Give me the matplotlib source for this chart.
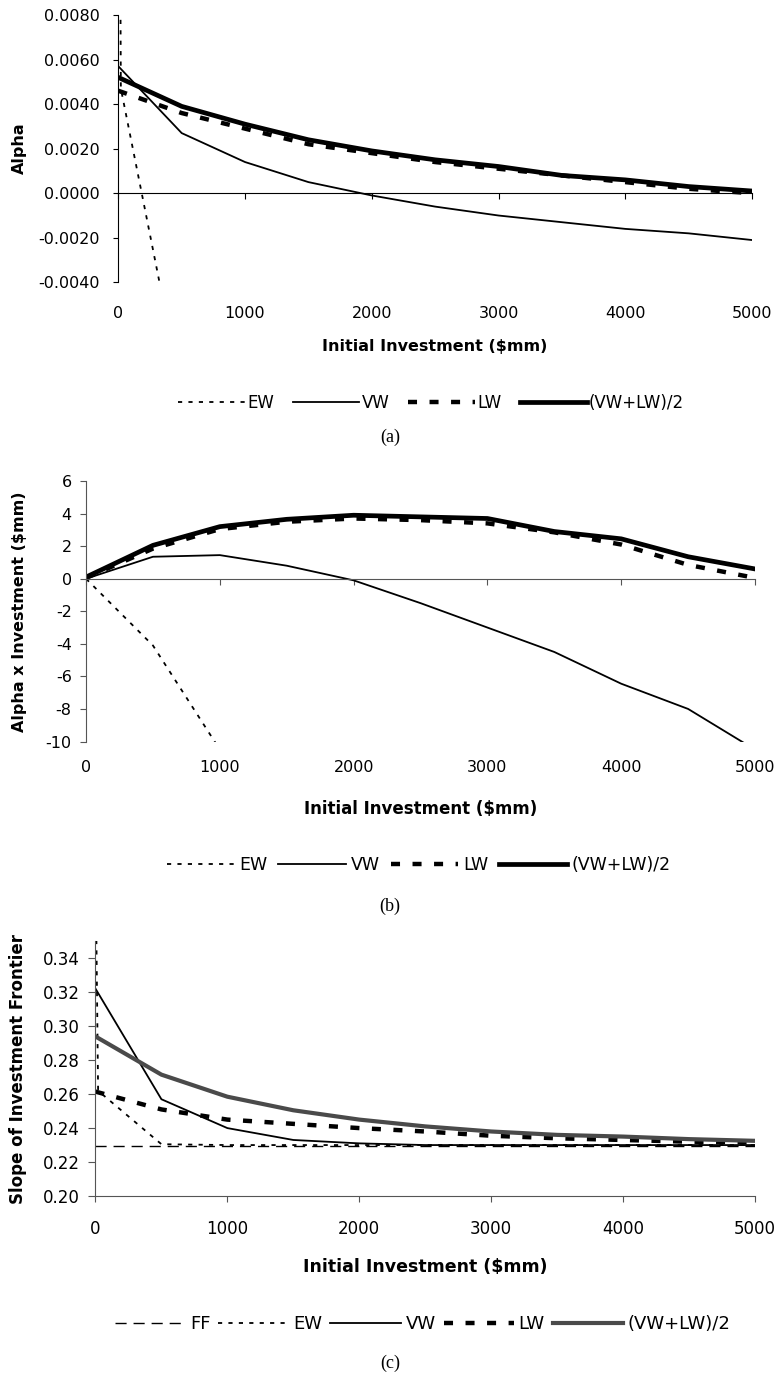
"""Alpha, alpha x investment and frontier slope vs initial investment, three stacked panels."""
import matplotlib

matplotlib.use("Agg")
import matplotlib.pyplot as plt
from matplotlib.ticker import FormatStrFormatter

plt.rcParams["font.family"] = ["DejaVu Sans"]
plt.rcParams["axes.unicode_minus"] = False
plt.rcParams["lines.scale_dashes"] = False

# ---- data ----
INVEST = [0, 500, 1000, 1500, 2000, 2500, 3000, 3500, 4000, 4500, 5000]
XTICKS = [0, 1000, 2000, 3000, 4000, 5000]

# (a) alpha
EW_A_X = [0, 20, 500]
EW_A = [0.0300, 0.0047, -0.0090]
VW_A = [0.0057, 0.0027, 0.0014, 0.0005, -0.0001, -0.0006, -0.0010, -0.0013, -0.0016, -0.0018, -0.0021]
LW_A = [0.0046, 0.0036, 0.0029, 0.0022, 0.0018, 0.0014, 0.0011, 0.0008, 0.0005, 0.0002, 0.0000]
AVG_A = [0.0052, 0.0039, 0.0031, 0.0024, 0.0019, 0.0015, 0.0012, 0.0008, 0.0006, 0.0003, 0.0001]

# (b) alpha x investment
EW_B_X = [0, 500, 1000]
EW_B = [0.0, -4.1, -10.5]
VW_B = [0.0, 1.35, 1.45, 0.8, -0.1, -1.5, -3.0, -4.5, -6.45, -8.0, -10.5]
LW_B = [0.05, 1.85, 3.05, 3.5, 3.7, 3.6, 3.4, 2.85, 2.1, 0.85, 0.05]
AVG_B = [0.1, 2.05, 3.2, 3.65, 3.9, 3.8, 3.7, 2.9, 2.45, 1.35, 0.6]

# (c) slope of investment frontier
FF_C = [0.2295, 0.2295, 0.2295, 0.2295, 0.2295, 0.2295, 0.2295, 0.2295, 0.2295, 0.2295, 0.2295]
EW_C_X = [0, 20, 500, 1000, 1500, 2000, 2500, 3000, 3500, 4000, 4500, 5000]
EW_C = [0.400, 0.262, 0.2305, 0.2300, 0.2300, 0.2300, 0.2300, 0.2300, 0.2300, 0.2300, 0.2300, 0.2300]
VW_C = [0.3222, 0.2570, 0.2400, 0.2330, 0.2310, 0.2300, 0.2300, 0.2300, 0.2300, 0.2300, 0.2300]
LW_C = [0.2615, 0.2510, 0.2450, 0.2425, 0.2400, 0.2380, 0.2355, 0.2340, 0.2330, 0.2320, 0.2315]
AVG_C = [0.2940, 0.2715, 0.2585, 0.2505, 0.2450, 0.2410, 0.2380, 0.2360, 0.2350, 0.2335, 0.2325]

LABELS = ["EW", "VW", "LW", "(VW+LW)/2"]

FF_STYLE = dict(color="black", lw=1.0, dashes=(8, 5))
EW_STYLE = dict(color="black", lw=1.3, dashes=(3, 4.5))
VW_STYLE = dict(color="black", lw=1.3, ls="-")
LW_STYLE = dict(color="black", lw=3.2, dashes=(6.5, 9))
AVG_STYLE = dict(color="black", lw=3.4, ls="-")


def zero_axis(ax, pad, size, spine_color):
    """Excel style: horizontal axis crosses at 0, labels stay at the bottom."""
    ax.spines["bottom"].set_position(("data", 0))
    ax.spines["bottom"].set_color(spine_color)
    ax.set_xticks(XTICKS)
    ax.tick_params(axis="x", direction="out", length=4.3, color=spine_color, labelbottom=False)
    sec = ax.secondary_xaxis("bottom")
    sec.set_xticks(XTICKS)
    sec.spines["bottom"].set_visible(False)
    sec.tick_params(length=0, pad=pad, labelsize=size)


def common(ax, spine_color):
    ax.spines["top"].set_visible(False)
    ax.spines["right"].set_visible(False)
    ax.spines["left"].set_color(spine_color)
    ax.set_xlim(0, 5000)


fig = plt.figure(figsize=(7.8, 13.78), dpi=100)

# ---------------- (a) ----------------
ax = fig.add_axes([0.1517, 0.7951, 0.8124, 0.1940])
common(ax, "black")
h_ew, = ax.plot(EW_A_X, EW_A, **EW_STYLE)
h_vw, = ax.plot(INVEST, VW_A, **VW_STYLE)
h_lw, = ax.plot(INVEST, LW_A, **LW_STYLE)
h_av, = ax.plot(INVEST, AVG_A, **AVG_STYLE)
ax.set_ylim(-0.004, 0.008)
ax.set_yticks([-0.004, -0.002, 0.0, 0.002, 0.004, 0.006, 0.008])
ax.yaxis.set_major_formatter(FormatStrFormatter("%.4f"))
ax.tick_params(axis="y", direction="out", length=3.6, pad=9.5, labelsize=11.5)
zero_axis(ax, 17, 11.5, "black")
ax.set_xlabel("Initial Investment ($mm)", fontsize=11.5, fontweight="bold")
ax.xaxis.set_label_coords(0.5, -0.2132)
ax.set_ylabel("Alpha", fontsize=11.5, fontweight="bold")
ax.yaxis.set_label_coords(-0.145, 0.5)
fig.legend([h_ew, h_vw, h_lw, h_av], LABELS, loc="center", bbox_to_anchor=(0.553, 0.7075),
           ncol=4, frameon=False, fontsize=12, handlelength=4.0, handletextpad=0.15,
           columnspacing=1.1, borderpad=0, borderaxespad=0)
fig.text(0.5, 0.6829, "(a)", ha="center", va="center", fontsize=13, family="Liberation Serif")

# ---------------- (b) ----------------
ax = fig.add_axes([0.1103, 0.4619, 0.8577, 0.1890])
common(ax, "#555555")
h_ew, = ax.plot(EW_B_X, EW_B, **EW_STYLE)
h_vw, = ax.plot(INVEST, VW_B, **VW_STYLE)
h_lw, = ax.plot(INVEST, LW_B, **LW_STYLE)
h_av, = ax.plot(INVEST, AVG_B, **AVG_STYLE)
ax.set_ylim(-10, 6)
ax.set_yticks([-10, -8, -6, -4, -2, 0, 2, 4, 6])
ax.tick_params(axis="y", direction="out", length=4.3, pad=6, labelsize=11.5, color="#555555")
zero_axis(ax, 13.3, 11.5, "#555555")
ax.set_xlabel("Initial Investment ($mm)", fontsize=12, fontweight="bold")
ax.xaxis.set_label_coords(0.5, -0.2246)
ax.set_ylabel("Alpha x Investment ($mm)", fontsize=11.5, fontweight="bold")
ax.yaxis.set_label_coords(-0.0889, 0.5)
fig.legend([h_ew, h_vw, h_lw, h_av], LABELS, loc="center", bbox_to_anchor=(0.537, 0.3721),
           ncol=4, frameon=False, fontsize=12.5, handlelength=3.9, handletextpad=0.3,
           columnspacing=0.6, borderpad=0, borderaxespad=0)
fig.text(0.5, 0.3425, "(b)", ha="center", va="center", fontsize=13, family="Liberation Serif")

# ---------------- (c) ----------------
ax = fig.add_axes([0.1224, 0.1321, 0.8455, 0.1847])
common(ax, "#555555")
ax.spines["bottom"].set_color("#555555")
h_ff, = ax.plot(INVEST, FF_C, **FF_STYLE)
h_ew, = ax.plot(EW_C_X, EW_C, **EW_STYLE)
h_vw, = ax.plot(INVEST, VW_C, **VW_STYLE)
h_lw, = ax.plot(INVEST, LW_C, **LW_STYLE)
h_av, = ax.plot(INVEST, AVG_C, color="#4a4a4a", lw=3.0)
ax.set_ylim(0.20, 0.35)
ax.set_yticks([0.20, 0.22, 0.24, 0.26, 0.28, 0.30, 0.32, 0.34])
ax.yaxis.set_major_formatter(FormatStrFormatter("%.2f"))
ax.set_xticks(XTICKS)
ax.tick_params(axis="y", direction="out", length=5, pad=6, labelsize=12, color="#555555")
ax.tick_params(axis="x", direction="out", length=4.3, pad=13, labelsize=12, color="#555555")
ax.set_xlabel("Initial Investment ($mm)", fontsize=12.5, fontweight="bold")
ax.xaxis.set_label_coords(0.5, -0.2436)
ax.set_ylabel("Slope of Investment Frontier", fontsize=12, fontweight="bold")
ax.yaxis.set_label_coords(-0.1034, 0.5)
fig.legend([h_ff, h_ew, h_vw, h_lw, h_av], ["FF"] + LABELS, loc="center",
           bbox_to_anchor=(0.542, 0.0392), ncol=5, frameon=False, fontsize=13,
           handlelength=3.9, handletextpad=0.25, columnspacing=0.45, borderpad=0, borderaxespad=0)
fig.text(0.5, 0.0109, "(c)", ha="center", va="center", fontsize=13, family="Liberation Serif")

fig.savefig("out.png", dpi=100)
plt.close(fig)
